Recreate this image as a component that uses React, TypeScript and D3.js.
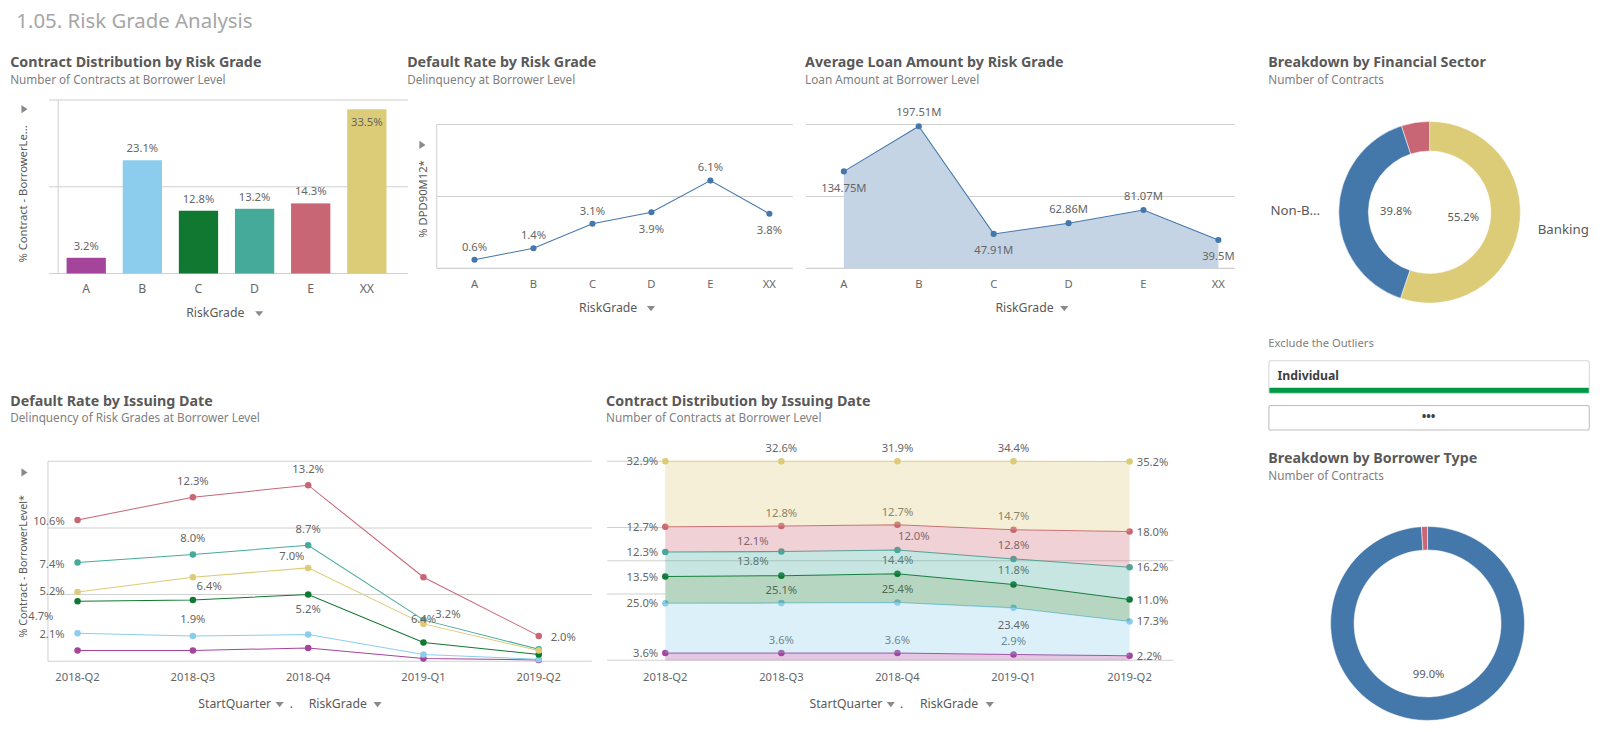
import React from "react";
import * as d3 from "d3";

const grades = ["A", "B", "C", "D", "E", "XX"];
const colors = ["#a5449b", "#8ccdee", "#117832", "#46aa9b", "#c96676", "#dccb77"];
const contractDist = [3.2, 23.1, 12.8, 13.2, 14.3, 33.5];
const defaultRate = [0.6, 1.4, 3.1, 3.9, 6.1, 3.8];
const defaultRateLabelBelow = [false, false, false, true, false, true];
const avgLoan = [134.75, 197.51, 47.91, 62.86, 81.07, 39.5];
const avgLoanLabels = ["134.75M", "197.51M", "47.91M", "62.86M", "81.07M", "39.5M"];
const avgLoanLabelBelow = [true, false, true, false, false, true];
const quarters = ["2018-Q2", "2018-Q3", "2018-Q4", "2019-Q1", "2019-Q2"];
// default rate by issuing date, per grade
const drA = [0.8, 0.8, 1.0, 0.2, 0.1];
const drB = [2.1, 1.9, 2.0, 0.5, 0.15];
const drC = [4.5, 4.6, 5.0, 1.4, 0.5];
const drD = [7.4, 8.0, 8.7, 3.1, 0.9];
const drE = [10.6, 12.3, 13.2, 6.3, 1.9];
const drXX = [5.2, 6.3, 7.0, 2.8, 0.8];
const drSeries = [drA, drB, drC, drD, drE, drXX];
// labels: [text, seriesIndex, quarterIndex, x offset, y offset]
const drLabels: [string, number, number, number, number][] = [
  ["10.6%", 4, 0, -28, 5], ["12.3%", 4, 1, 0, -12], ["13.2%", 4, 2, 0, -12], ["2.0%", 4, 4, 24, 5], ["6.4%", 4, 3, 0, 45],
  ["7.4%", 3, 0, -25, 5], ["8.0%", 3, 1, 0, -12], ["8.7%", 3, 2, 0, -12], ["3.2%", 3, 3, 24, -2],
  ["7.0%", 5, 2, -16, -8], ["6.4%", 5, 1, 16, 13], ["5.2%", 5, 0, -25, 3],
  ["4.7%", 2, 0, -36, 18], ["5.2%", 2, 2, 0, 18],
  ["2.1%", 1, 0, -25, 5], ["1.9%", 1, 1, 0, -13],
];
// contract distribution by issuing date (stacked, %)
const cdA = [3.6, 3.6, 3.6, 2.9, 2.2];
const cdB = [25.0, 25.1, 25.4, 23.4, 17.3];
const cdC = [13.5, 13.8, 14.4, 11.8, 11.0];
const cdD = [12.3, 12.1, 12.0, 12.8, 16.2];
const cdE = [12.7, 12.8, 12.7, 14.7, 18.0];
const cdXX = [32.9, 32.6, 31.9, 34.4, 35.2];
const cdSeries = [cdA, cdB, cdC, cdD, cdE, cdXX];
const sectorNames = ["Banking", "Non-B...", "Other"];
const sectorValues = [55.2, 39.8, 5.0];
const sectorColors = ["#dccb77", "#4477aa", "#c96676"];
const borrowerValues = [99.0, 1.0];
const borrowerColors = ["#4477aa", "#c96676"];

const FONT = "'Noto Sans', 'Liberation Sans', sans-serif";
const GRID = "#d0d0d0";
const TXT = "#595959";
const LBL = "#666";

function Title({ x, y, t, s }: { x: number; y: number; t: string; s: string }) {
  return (
    <g>
      <text x={x} y={y} fontSize={14} fontWeight="bold" fill={TXT}>{t}</text>
      <text x={x} y={y + 16} fontSize={11.5} fill="#808080">{s}</text>
    </g>
  );
}

function Tri({ x, y }: { x: number; y: number }) {
  return <path d={`M${x - 3},${y - 4}L${x + 3},${y}L${x - 3},${y + 4}Z`} fill="#8a8a8a" />;
}
function Down({ x, y }: { x: number; y: number }) {
  return <path d={`M${x - 4},${y - 2}L${x + 4},${y - 2}L${x},${y + 3}Z`} fill="#8a8a8a" />;
}

function BarChart() {
  const x = d3.scaleBand().domain(grades).range([57, 387]).paddingInner(0.3).paddingOuter(0.15);
  const y = d3.scaleLinear().domain([0, 35.4]).range([268, 98]);
  return (
    <g>
      <Title x={10} y={66} t="Contract Distribution by Risk Grade" s="Number of Contracts at Borrower Level" />
      {[0, 17.7, 35.4].map((v) => (
        <line key={v} x1={48} x2={400} y1={y(v)} y2={y(v)} stroke={GRID} />
      ))}
      <line x1={57} x2={57} y1={98} y2={268} stroke={GRID} />
      {grades.map((g, i) => (
        <g key={g}>
          <rect x={x(g)} y={y(contractDist[i])} width={x.bandwidth()} height={y(0) - y(contractDist[i])} fill={colors[i]} />
          <text x={x(g)! + x.bandwidth() / 2} y={g === "XX" ? y(contractDist[i]) + 16 : y(contractDist[i]) - 8} textAnchor="middle" fontSize={11} fill={LBL}>{contractDist[i].toFixed(1)}%</text>
          <text x={x(g)! + x.bandwidth() / 2} y={287} textAnchor="middle" fontSize={12} fill={LBL}>{g}</text>
        </g>
      ))}
      <text x={211} y={311} textAnchor="middle" fontSize={12} fill={TXT}>RiskGrade</text>
      <Down x={254} y={307} />
      <Tri x={24} y={107} />
      <text transform="translate(26,190) rotate(-90)" textAnchor="middle" fontSize={11} fill={TXT}>% Contract - BorrowerLe...</text>
    </g>
  );
}

function DefaultRateChart() {
  const x = d3.scalePoint().domain(grades).range([465, 754]);
  const y = d3.scaleLinear().domain([0, 10]).range([263, 122]);
  const line = d3.line<number>().x((_, i) => x(grades[i])!).y((d) => y(d));
  return (
    <g>
      <Title x={399} y={66} t="Default Rate by Risk Grade" s="Delinquency at Borrower Level" />
      {[0, 5, 10].map((v) => <line key={v} x1={428} x2={777} y1={y(v)} y2={y(v)} stroke={GRID} />)}
      <line x1={428} x2={428} y1={122} y2={263} stroke={GRID} />
      <path d={line(defaultRate)!} fill="none" stroke="#4477aa" strokeWidth={1} />
      {defaultRate.map((v, i) => (
        <g key={i}>
          <circle cx={x(grades[i])} cy={y(v)} r={3} fill="#4477aa" />
          <text x={x(grades[i])} y={defaultRateLabelBelow[i] ? y(v) + 20 : y(v) - 9} textAnchor="middle" fontSize={11} fill={LBL}>{v.toFixed(1)}%</text>
          <text x={x(grades[i])} y={282} textAnchor="middle" fontSize={11} fill={LBL}>{grades[i]}</text>
        </g>
      ))}
      <text x={596} y={306} textAnchor="middle" fontSize={12} fill={TXT}>RiskGrade</text>
      <Down x={638} y={302} />
      <Tri x={414} y={142} />
      <text transform="translate(418,195) rotate(-90)" textAnchor="middle" fontSize={11} fill={TXT}>% DPD90M12*</text>
    </g>
  );
}

function AvgLoanChart() {
  const x = d3.scalePoint().domain(grades).range([827, 1194]);
  const y = d3.scaleLinear().domain([0, 200]).range([263, 122]);
  const line = d3.line<number>().x((_, i) => x(grades[i])!).y((d) => y(d));
  const area = d3.area<number>().x((_, i) => x(grades[i])!).y0(y(0)).y1((d) => y(d));
  return (
    <g>
      <Title x={789} y={66} t="Average Loan Amount by Risk Grade" s="Loan Amount at Borrower Level" />
      {[0, 100, 200].map((v) => <line key={v} x1={790} x2={1210} y1={y(v)} y2={y(v)} stroke={GRID} />)}
      <path d={area(avgLoan)!} fill="#c5d4e4" />
      <path d={line(avgLoan)!} fill="none" stroke="#4477aa" strokeWidth={1} />
      {avgLoan.map((v, i) => (
        <g key={i}>
          <circle cx={x(grades[i])} cy={y(v)} r={3} fill="#4477aa" />
          <text x={x(grades[i])} y={avgLoanLabelBelow[i] ? y(v) + 20 : y(v) - 10} textAnchor="middle" fontSize={11} fill={LBL}>{avgLoanLabels[i]}</text>
          <text x={x(grades[i])} y={282} textAnchor="middle" fontSize={11} fill={LBL}>{grades[i]}</text>
        </g>
      ))}
      <text x={1004} y={306} textAnchor="middle" fontSize={12} fill={TXT}>RiskGrade</text>
      <Down x={1043} y={302} />
    </g>
  );
}

function Donut({ cx, cy, ro, ri, values, cols, labels }: any) {
  const pie = d3.pie<number>().sort(null).value((d) => d);
  const arc = d3.arc<d3.PieArcDatum<number>>().outerRadius(ro).innerRadius(ri);
  return (
    <g transform={`translate(${cx},${cy})`}>
      {pie(values).map((a, i) => <path key={i} d={arc(a)!} fill={cols[i]} stroke="#fff" strokeWidth={0.5} />)}
      {labels}
    </g>
  );
}

function RightPanel() {
  return (
    <g>
      <Title x={1243} y={66} t="Breakdown by Financial Sector" s="Number of Contracts" />
      <Donut cx={1401} cy={208} ro={89} ri={60} values={sectorValues} cols={sectorColors}
        labels={<>
          <text x={-33} y={3} textAnchor="middle" fontSize={11} fill={TXT}>{sectorValues[1].toFixed(1)}%</text>
          <text x={33} y={9} textAnchor="middle" fontSize={11} fill={TXT}>{sectorValues[0].toFixed(1)}%</text>
          <text x={106} y={21} fontSize={13} fill={TXT}>{sectorNames[0]}</text>
          <text x={-156} y={3} fontSize={13} fill={TXT}>{sectorNames[1]}</text>
        </>} />
      <text x={1243} y={340} fontSize={11} fill="#808080">Exclude the Outliers</text>
      <rect x={1243.5} y={353.5} width={314} height={32} rx={2} fill="#fff" stroke="#d6d6d6" />
      <rect x={1244} y={380} width={313} height={5} fill="#009845" />
      <text x={1252} y={372} fontSize={12} fontWeight="bold" fill="#404040">Individual</text>
      <rect x={1243.5} y={397.5} width={314} height={24} rx={2} fill="#fff" stroke="#bdbdbd" />
      <text x={1400} y={413} textAnchor="middle" fontSize={12} fontWeight="bold" fill="#404040">•••</text>
      <Title x={1243} y={454} t="Breakdown by Borrower Type" s="Number of Contracts" />
      <Donut cx={1399} cy={611} ro={95} ri={72} values={borrowerValues} cols={borrowerColors}
        labels={<text x={1} y={53} textAnchor="middle" fontSize={11} fill={TXT}>{borrowerValues[0].toFixed(1)}%</text>} />
    </g>
  );
}

function DefaultByDateChart() {
  const x = d3.scalePoint().domain(quarters).range([76, 528]);
  const y = d3.scaleLinear().domain([0, 15]).range([648, 452]);
  const line = d3.line<number>().x((_, i) => x(quarters[i])!).y((d) => y(d));
  return (
    <g>
      <Title x={10} y={398} t="Default Rate by Issuing Date" s="Delinquency of Risk Grades at Borrower Level" />
      {[0, 5, 10, 15].map((v) => <line key={v} x1={47} x2={580} y1={y(v)} y2={y(v)} stroke={GRID} />)}
      <line x1={47} x2={47} y1={452} y2={648} stroke={GRID} />
      {drSeries.map((s, k) => (
        <g key={k}>
          <path d={line(s)!} fill="none" stroke={colors[k]} strokeWidth={1} />
          {s.map((v, i) => <circle key={i} cx={x(quarters[i])} cy={y(v)} r={3.2} fill={colors[k]} />)}
        </g>
      ))}
      {drLabels.map(([t, si, qi, dx, dy], i) => (
        <text key={i} x={x(quarters[qi])! + dx} y={y(drSeries[si][qi]) + dy} textAnchor="middle" fontSize={11} fill={LBL}>{t}</text>
      ))}
      {quarters.map((q) => <text key={q} x={x(q)} y={667} textAnchor="middle" fontSize={11} fill={LBL}>{q}</text>)}
      <text x={230} y={694} textAnchor="middle" fontSize={12} fill={TXT}>StartQuarter</text>
      <Down x={274} y={690} />
      <text x={284} y={694} fontSize={12} fill={TXT}>.</text>
      <text x={331} y={694} textAnchor="middle" fontSize={12} fill={TXT}>RiskGrade</text>
      <Down x={370} y={690} />
      <Tri x={24} y={463} />
      <text transform="translate(26,555) rotate(-90)" textAnchor="middle" fontSize={10.5} fill={TXT}>% Contract - BorrowerLevel*</text>
    </g>
  );
}

function StackedChart() {
  const x = d3.scalePoint().domain(quarters).range([652, 1107]);
  const y = d3.scaleLinear().domain([0, 100]).range([647, 452]);
  const rows = quarters.map((_, i) => {
    const r: any = {};
    grades.forEach((g, k) => (r[g] = cdSeries[k][i]));
    return r;
  });
  const stack = d3.stack<any>().keys(grades)(rows);
  const area = d3.area<any>().x((_, i) => x(quarters[i])!).y0((d) => y(d[0])).y1((d) => y(d[1]));
  const line = d3.line<any>().x((_, i) => x(quarters[i])!).y((d) => y(d[1]));
  const midOff: [number, number][][] = [
    [[0, -9], [0, -9], [0, -9], [0, -9]],
    [[0, -9], [0, -9], [0, 21], [0, 21]],
    [[-28, -10], [0, -10], [0, -10], [22, -10]],
    [[-28, -6], [16, -10], [0, -10], [0, -10]],
    [[0, -9], [0, -9], [0, -9], [0, -9]],
    [[0, -9], [0, -9], [0, -9], [0, -9]],
  ];
  return (
    <g>
      <Title x={594} y={398} t="Contract Distribution by Issuing Date" s="Number of Contracts at Borrower Level" />
      <line x1={595} x2={1150} y1={y(0)} y2={y(0)} stroke={GRID} />
      <line x1={595} x2={1150} y1={y(50)} y2={y(50)} stroke={GRID} />
      {[100, 66.7, 33.3].map((v) => <line key={v} x1={595} x2={652} y1={y(v)} y2={y(v)} stroke={GRID} />)}
      {stack.map((s, k) => (
        <g key={k}>
          <path d={area(s)!} fill={colors[k]} opacity={0.3} />
          <path d={line(s)!} fill="none" stroke={colors[k]} strokeWidth={1} />
          {s.map((d, i) => <circle key={i} cx={x(quarters[i])} cy={y(d[1])} r={3.2} fill={colors[k]} />)}
          {s.map((d, i) => {
            const px = x(quarters[i])!, py = y(d[1]);
            const t = cdSeries[k][i].toFixed(1) + "%";
            if (i === 0) return <text key={"l" + i} x={px - 7} y={py + 4} textAnchor="end" fontSize={11} fill={LBL}>{t}</text>;
            if (i === 4) return <text key={"l" + i} x={px + 7} y={py + 4} fontSize={11} fill={LBL}>{t}</text>;
            const [dx, dy] = midOff[k][i - 1];
            return <text key={"l" + i} x={px + dx} y={py + dy} textAnchor="middle" fontSize={11} fill={LBL}>{t}</text>;
          })}
        </g>
      ))}
      {quarters.map((q) => <text key={q} x={x(q)} y={667} textAnchor="middle" fontSize={11} fill={LBL}>{q}</text>)}
      <text x={829} y={694} textAnchor="middle" fontSize={12} fill={TXT}>StartQuarter</text>
      <Down x={873} y={690} />
      <text x={882} y={694} fontSize={12} fill={TXT}>.</text>
      <text x={930} y={694} textAnchor="middle" fontSize={12} fill={TXT}>RiskGrade</text>
      <Down x={970} y={690} />
    </g>
  );
}

export default function App() {
  return (
    <svg width={1600} height={732} style={{ position: "absolute", left: 0, top: 0, background: "#fff" }} fontFamily={FONT}>
      <g transform={`scale(${1600 / 1568})`}>
        <text x={16} y={27} fontSize={20} fill="#a6a6a6">1.05. Risk Grade Analysis</text>
        <BarChart />
        <DefaultRateChart />
        <AvgLoanChart />
        <RightPanel />
        <DefaultByDateChart />
        <StackedChart />
      </g>
    </svg>
  );
}
